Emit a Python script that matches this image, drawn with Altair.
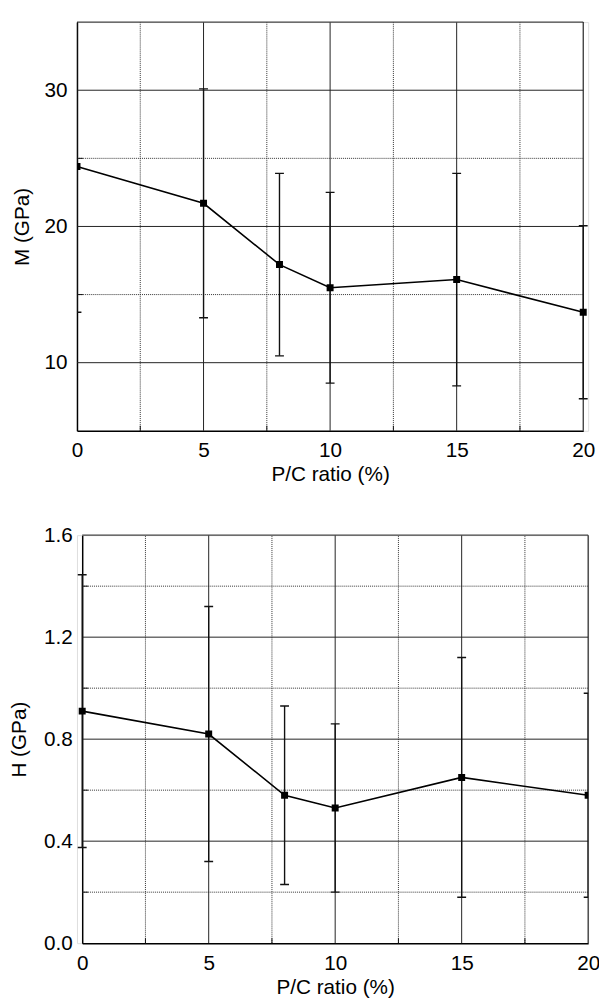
import altair as alt
import pandas as pd

# ---- data ----
pc = [0, 5, 8, 10, 15, 20]
m_mean = [24.4, 21.7, 17.2, 15.5, 16.1, 13.7]
m_err = [10.7, 8.4, 6.7, 7.0, 7.8, 6.35]
h_mean = [0.91, 0.82, 0.58, 0.53, 0.65, 0.58]
h_err = [0.535, 0.50, 0.35, 0.33, 0.47, 0.40]

x_ticks = [0, 5, 10, 15, 20]
x_major_grid = [5, 10, 15]
x_minor_grid = [2.5, 7.5, 12.5, 17.5]
m_ticks = [10, 20, 30]
m_major_grid = [10, 20, 30]
m_minor_grid = [15, 25]
h_ticks = [0.0, 0.4, 0.8, 1.2, 1.6]
h_major_grid = [0.4, 0.8, 1.2]
h_minor_grid = [0.2, 0.6, 1.0, 1.4]

FONT = "Liberation Sans"
FS = 21


def panel(mean, err, ydom, yticks, ymaj, ymin, ytitle, yfmt,
          xrange, height, ytitlepad, yoffset, xlabelpad, xtitlepad):
    df = pd.DataFrame({
        "pc": pc,
        "mean": mean,
        "lo": [m - e for m, e in zip(mean, err)],
        "hi": [m + e for m, e in zip(mean, err)],
    })
    xs = alt.Scale(domain=[0, 20], range=xrange, nice=False, zero=False)
    ys = alt.Scale(domain=ydom, range=[height, 0], nice=False, zero=False)
    xaxis = alt.Axis(
        title="P/C ratio (%)", values=x_ticks, format="d", grid=False,
        ticks=False, tickSize=0, domainColor="black", domainWidth=1.5,
        labelFont=FONT, labelFontSize=FS, labelColor="black",
        labelPadding=xlabelpad, labelFlush=False, labelOverlap=False,
        titleFont=FONT, titleFontSize=FS, titleFontWeight="normal",
        titleColor="black", titlePadding=xtitlepad,
    )
    yaxis = alt.Axis(
        title=ytitle, values=yticks, format=yfmt, grid=False,
        ticks=False, tickSize=0, domainColor="black", domainWidth=1.5,
        labelFont=FONT, labelFontSize=FS, labelColor="black",
        labelPadding=10, labelFlush=False, labelOverlap=False,
        titleFont=FONT, titleFontSize=FS, titleFontWeight="normal",
        titleColor="black", titlePadding=ytitlepad, offset=yoffset,
    )
    one = pd.DataFrame({"a": [0]})

    vminor = alt.Chart(pd.DataFrame({"v": x_minor_grid})).mark_rule(
        color="#333", strokeWidth=1, strokeDash=[1, 1]
    ).encode(
        x=alt.X("v:Q", scale=xs, axis=xaxis),
        y=alt.YDatum(ydom[0], scale=ys, axis=yaxis),
        y2=alt.Y2Datum(ydom[1]),
    )
    hminor = alt.Chart(pd.DataFrame({"v": ymin})).mark_rule(
        color="#333", strokeWidth=1, strokeDash=[1, 1]
    ).encode(
        y=alt.Y("v:Q", scale=ys, axis=yaxis),
        x=alt.XDatum(0, scale=xs, axis=xaxis),
        x2=alt.X2Datum(20),
    )
    vmajor = alt.Chart(pd.DataFrame({"v": x_major_grid})).mark_rule(
        color="#222", strokeWidth=1
    ).encode(
        x=alt.X("v:Q", scale=xs, axis=xaxis),
        y=alt.YDatum(ydom[0], scale=ys, axis=yaxis),
        y2=alt.Y2Datum(ydom[1]),
    )
    hmajor = alt.Chart(pd.DataFrame({"v": ymaj})).mark_rule(
        color="#222", strokeWidth=1
    ).encode(
        y=alt.Y("v:Q", scale=ys, axis=yaxis),
        x=alt.XDatum(0, scale=xs, axis=xaxis),
        x2=alt.X2Datum(20),
    )
    # short inward minor ticks on the bottom and left axes
    xminor_ticks = alt.Chart(pd.DataFrame({"v": x_minor_grid})).mark_tick(
        orient="vertical", size=5, thickness=1, color="#111", opacity=1,
        yOffset=-2.5
    ).encode(
        x=alt.X("v:Q", scale=xs, axis=xaxis),
        y=alt.YDatum(ydom[0], scale=ys, axis=yaxis),
    )
    yminor_ticks = alt.Chart(pd.DataFrame({"v": ymin})).mark_tick(
        orient="horizontal", size=6, thickness=1, color="#111", opacity=1,
        xOffset=3
    ).encode(
        y=alt.Y("v:Q", scale=ys, axis=yaxis),
        x=alt.XDatum(0, scale=xs, axis=xaxis),
    )
    top_border = alt.Chart(one).mark_rule(color="#444", strokeWidth=1.2).encode(
        y=alt.YDatum(ydom[1], scale=ys, axis=yaxis),
        x=alt.XDatum(0, scale=xs, axis=xaxis),
        x2=alt.X2Datum(20),
    )
    right_border = alt.Chart(one).mark_rule(color="#222", strokeWidth=1.2).encode(
        x=alt.XDatum(20, scale=xs, axis=xaxis),
        y=alt.YDatum(ydom[0], scale=ys, axis=yaxis),
        y2=alt.Y2Datum(ydom[1]),
    )
    base = alt.Chart(df)
    ebar = base.mark_rule(color="#111", strokeWidth=1.4, clip=True).encode(
        x=alt.X("pc:Q", scale=xs, axis=xaxis),
        y=alt.Y("lo:Q", scale=ys, axis=yaxis),
        y2="hi:Q",
    )
    cap_lo = base.mark_tick(orient="horizontal", size=9, thickness=1.4,
                            color="#111", clip=True, opacity=1).encode(
        x=alt.X("pc:Q", scale=xs, axis=xaxis),
        y=alt.Y("lo:Q", scale=ys, axis=yaxis),
    )
    cap_hi = base.mark_tick(orient="horizontal", size=9, thickness=1.4,
                            color="#111", clip=True, opacity=1).encode(
        x=alt.X("pc:Q", scale=xs, axis=xaxis),
        y=alt.Y("hi:Q", scale=ys, axis=yaxis),
    )
    line = base.mark_line(color="black", strokeWidth=1.6, clip=True).encode(
        x=alt.X("pc:Q", scale=xs, axis=xaxis),
        y=alt.Y("mean:Q", scale=ys, axis=yaxis),
    )
    pts = base.mark_square(color="black", size=50, opacity=1, clip=True).encode(
        x=alt.X("pc:Q", scale=xs, axis=xaxis),
        y=alt.Y("mean:Q", scale=ys, axis=yaxis),
    )
    return alt.layer(
        vminor, hminor, vmajor, hmajor, xminor_ticks, yminor_ticks,
        top_border, right_border,
        ebar, cap_lo, cap_hi, line, pts
    ).properties(width=518.7, height=height)


top = panel(m_mean, m_err, [5, 35], m_ticks, m_major_grid, m_minor_grid,
            "M (GPa)", "d", [0, 513.7], 414.7, 12, 0, 9, 3)
bottom = panel(h_mean, h_err, [0, 1.6], h_ticks, h_major_grid, h_minor_grid,
               "H (GPa)", ".1f", [5.3, 518.7], 414.0, 14, -5.3, 10, 3)

chart = alt.vconcat(top, bottom, spacing=105.6, bounds="flush").properties(
    padding={"left": 0, "top": 5, "right": -2, "bottom": -3}
).configure_view(stroke="transparent").configure(background="white")

chart.save("out.html", embed_options={"renderer": "svg", "actions": False})
